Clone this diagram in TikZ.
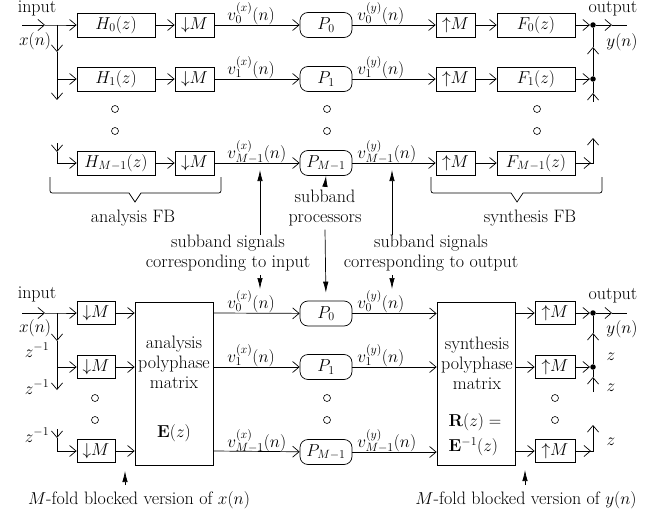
\documentclass[tikz,border=0pt]{standalone}
\usetikzlibrary{arrows.meta}
\newcommand{\dnM}{$\mathord{\downarrow}M$}
\newcommand{\upM}{$\mathord{\uparrow}M$}
\begin{document}
\begin{tikzpicture}[x=1pt,y=-1pt,font=\fontsize{18}{20}\selectfont,
  line width=0.7pt,
  >={Straight Barb[length=6.5pt,width=11pt]},
  blk/.style={draw, minimum height=24pt, inner sep=0pt},
  wbox/.style={blk, minimum width=78pt},
  sbox/.style={blk, minimum width=39pt},
  pbox/.style={draw, rounded corners=8pt, minimum width=52pt, minimum height=25pt, inner sep=0pt},
  dotn/.style={circle, fill, inner sep=0pt, minimum size=5.5pt},
  hollow/.style={circle, draw, inner sep=0pt, minimum size=7pt, line width=0.6pt},
  pt/.style={-{Latex[length=11pt,width=5.5pt]}},
  lbl/.style={anchor=base west, inner sep=0pt},
  bl/.style={anchor=base, inner sep=0pt},
]
\useasboundingbox (0,0) rectangle (650,516);

% ================= TOP: filter bank =================
\node[wbox] (H0) at (116,25) {$H_0(z)$};
\node[wbox] (H1) at (116,79) {$H_1(z)$};
\node[wbox] (H2) at (116,163) {$H_{M-1}(z)$};
\node[sbox] (D0) at (194.5,25) {\dnM};
\node[sbox] (D1) at (194.5,79) {\dnM};
\node[sbox] (D2) at (194.5,163) {\dnM};
\node[pbox] (P0) at (326,25) {$P_0$};
\node[pbox] (P1) at (326,79) {$P_1$};
\node[pbox] (P2) at (326,163) {$P_{M-1}$};
\node[sbox] (U0) at (455.5,25) {\upM};
\node[sbox] (U1) at (455.5,79) {\upM};
\node[sbox] (U2) at (455.5,163) {\upM};
\node[wbox] (F0) at (536,25) {$F_0(z)$};
\node[wbox] (F1) at (536,79) {$F_1(z)$};
\node[wbox] (F2) at (536,163) {$F_{M-1}(z)$};

\node[bl] (tin) at (37,13) {input};
\node (txn) at (35,41) {$x(n)$};
\node[bl] (tout) at (613,13) {output};
\node (tyn) at (622,42) {$y(n)$};

% input and left branch
\coordinate (ti0) at (22,25);
\coordinate (ti1) at (45,25);
\coordinate (tb0) at (57,25);
\coordinate (tb1) at (57,79);
\coordinate (tb2) at (57,163);
\draw[->] (ti0) -- (ti1);
\draw[->] (ti1) -- (tb0) -- (H0);
\draw[->] (tb0) -- (57,52);
\draw (57,52) -- (tb1);
\draw[->] (tb1) -- (H1);
\draw[->] (tb1) -- (57,100);
\draw[->] (57,143) -- (57,152);
\draw[->] (57,152) -- (tb2) -- (H2);

% rows
\foreach \i in {0,1,2}{
  \draw[->] (H\i) -- (D\i);
  \draw[->] (D\i) -- (P\i);
  \draw[->] (P\i) -- (U\i);
  \draw[->] (U\i) -- (F\i);
}
\node[lbl] at (227,20.5) {$v_0^{(x)}(n)$};
\node[lbl] at (227,74.5) {$v_1^{(x)}(n)$};
\node[lbl] at (227,158.5) {$v_{M-1}^{(x)}(n)$};
\node[lbl] at (357,20.5) {$v_0^{(y)}(n)$};
\node[lbl] at (357,74.5) {$v_1^{(y)}(n)$};
\node[lbl] at (357,158.5) {$v_{M-1}^{(y)}(n)$};

% right branch / output
\node[dotn] (o0) at (593,25) {};
\node[dotn] (o1) at (593,79) {};
\coordinate (oc2) at (593,163);
\draw[->] (F0) -- (o0);
\draw[->] (F1) -- (o1);
\draw[->] (o0) -- (612,25);
\draw (612,25) -- (627,25);
\draw[->] (o1) -- (593,47);
\draw (593,47) -- (o0);
\draw[->] (593,102) -- (593,93);
\draw (593,93) -- (o1);
\draw[->] (F2) -- (oc2) -- (593,138);
\draw[->] (F2) -- (591,163);

% dots (hollow circles)
\foreach \x in {115,327,537}{
  \node[hollow] at (\x,109) {};
  \node[hollow] at (\x,131) {};
}

% braces
\draw (50,177) -- (50,188) .. controls (50,193) .. (55,193) -- (129,193) -- (135,202) -- (141,193) -- (216,193) .. controls (221,193) .. (221,188) -- (221,177);
\draw (431,177) -- (431,188) .. controls (431,193) .. (436,193) -- (511,193) -- (517,202) -- (523,193) -- (597,193) .. controls (602,193) .. (602,188) -- (602,177);
\node (afb) at (133,218) {analysis FB};
\node (sfb) at (530,218) {synthesis FB};

% ================= annotations =================
\node[align=center] (sp) at (325,208) {subband\\processors};
\node[align=center] (ssi) at (228,253) {subband signals\\corresponding to input};
\node[align=center] (sso) at (431,253) {subband signals\\corresponding to output};

% ================= BOTTOM: polyphase =================
\node[sbox, minimum width=38pt, minimum height=23pt] (d0) at (96,313) {\dnM};
\node[sbox, minimum width=38pt, minimum height=23pt] (d1) at (96,367) {\dnM};
\node[sbox, minimum width=38pt, minimum height=23pt] (d2) at (96,451) {\dnM};
\node[draw, minimum width=78pt, minimum height=163pt, inner sep=0pt] (A) at (174,383.5) {};
\node[align=center, inner sep=0pt] (At) at (174,362) {analysis\\polyphase\\matrix};
\node (Ae) at (174,433) {$\mathbf{E}(z)$};
\node[pbox] (p0) at (326,313.5) {$P_0$};
\node[pbox] (p1) at (326,367) {$P_1$};
\node[pbox] (p2) at (326,452) {$P_{M-1}$};
\node[draw, minimum width=78pt, minimum height=163pt, inner sep=0pt] (S) at (476,383.5) {};
\node[align=center, inner sep=0pt] (St) at (477,363) {synthesis\\polyphase\\matrix};
\node[align=left, inner sep=0pt] (Sr) at (475,435) {$\mathbf{R}(z) =$\\[5pt]$\mathbf{E}^{-1}(z)$};
\node[sbox, minimum width=40pt, minimum height=23pt] (u0) at (555,313) {\upM};
\node[sbox, minimum width=40pt, minimum height=23pt] (u1) at (555,367) {\upM};
\node[sbox, minimum width=40pt, minimum height=23pt] (u2) at (555,451) {\upM};

\node[bl] (bin) at (37,298) {input};
\node (bxn) at (35,328) {$x(n)$};
\node[bl] (bout) at (613,299) {output};
\node (byn) at (622,329) {$y(n)$};
\node (z1) at (37,350) {$z^{-1}$};
\node (z2) at (37,387) {$z^{-1}$};
\node (z3) at (37,435) {$z^{-1}$};
\node (zz1) at (611,357) {$z$};
\node (zz2) at (611,388) {$z$};
\node (zz3) at (611,442) {$z$};

% input and left branch
\coordinate (bi0) at (22,313);
\coordinate (bi1) at (45,313);
\coordinate (bb0) at (57,313);
\coordinate (bb1) at (57,367);
\coordinate (bb2) at (57,451);
\draw[->] (bi0) -- (bi1);
\draw[->] (bi1) -- (bb0) -- (d0);
\draw[->] (bb0) -- (57,341);
\draw (57,341) -- (bb1);
\draw[->] (bb1) -- (d1);
\draw[->] (bb1) -- (57,390);
\draw[->] (57,429) -- (57,438);
\draw[->] (57,438) -- (bb2) -- (d2);

\foreach \i in {0,1,2}{
  \draw[->] (d\i) -- (d\i -| A.west);
  \draw[->] (d\i -| A.east) -- (p\i);
  \draw[->] (p\i) -- (p\i -| S.west);
  \draw[->] (u\i -| S.east) -- (u\i);
}
\node[lbl] at (227,308.5) {$v_0^{(x)}(n)$};
\node[lbl] at (227,362.5) {$v_1^{(x)}(n)$};
\node[lbl] at (227,447.5) {$v_{M-1}^{(x)}(n)$};
\node[lbl] at (357,308.5) {$v_0^{(y)}(n)$};
\node[lbl] at (357,362.5) {$v_1^{(y)}(n)$};
\node[lbl] at (357,447.5) {$v_{M-1}^{(y)}(n)$};

% right branch / output
\node[dotn] (q0) at (593,313) {};
\node[dotn] (q1) at (593,367) {};
\coordinate (qc2) at (593,451);
\draw[->] (u0) -- (q0);
\draw[->] (u1) -- (q1);
\draw[->] (q0) -- (612,313);
\draw (612,313) -- (627,313);
\draw[->] (q1) -- (593,333);
\draw (593,333) -- (q0);
\draw[->] (593,392) -- (593,377);
\draw (593,377) -- (q1);
\draw[->] (u2) -- (qc2) -- (593,425);
\draw[->] (u2) -- (591,451);

\foreach \x in {95,327,555}{
  \node[hollow] at (\x,398) {};
  \node[hollow] at (\x,420) {};
}

\node (bx) at (139,500) {$M$-fold blocked version of $x(n)$};
\node (by) at (526,500) {$M$-fold blocked version of $y(n)$};

% ================= annotation arrows =================
\draw[pt] (sp.north) -- (P2.south);
\draw[pt, shorten >=8pt] (sp.south) -- (p0.north);
\draw[pt] (260,235) -- (260,170);
\draw[pt] (260,275) -- (260,289);
\draw[pt] (392,235) -- (392,170);
\draw[pt] (392,275) -- (392,289);
\draw[pt] (125,485) -- (125,471);
\draw[pt] (525,485) -- (525,470);
\end{tikzpicture}
\end{document}
